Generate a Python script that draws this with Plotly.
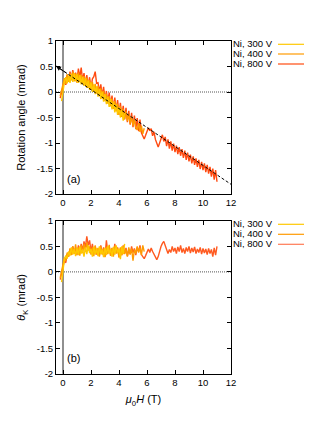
import plotly.graph_objects as go

# ---------------- data ----------------
x800 = [-0.2, -0.1, 0.0, 0.1, 0.2, 0.3, 0.4, 0.5, 0.6, 0.7, 0.8, 0.9, 1.0, 1.1, 1.2, 1.3, 1.4, 1.5, 1.6, 1.7,
        1.8, 1.9, 2.0, 2.1, 2.2, 2.3, 2.4, 2.5, 2.6, 2.7, 2.8, 2.9, 3.0, 3.1, 3.2, 3.3, 3.4, 3.5, 3.6, 3.7,
        3.8, 3.9, 4.0, 4.1, 4.2, 4.3, 4.4, 4.5, 4.6, 4.7, 4.8, 4.9, 5.0, 5.1, 5.2, 5.3, 5.4, 5.5, 5.6, 5.7,
        5.8, 5.9, 6.0, 6.1, 6.2, 6.3, 6.4, 6.5, 6.6, 6.7, 6.8, 6.9, 7.0, 7.1, 7.2, 7.3, 7.4, 7.5, 7.6, 7.7,
        7.8, 7.9, 8.0, 8.1, 8.2, 8.3, 8.4, 8.5, 8.6, 8.7, 8.8, 8.9, 9.0, 9.1, 9.2, 9.3, 9.4, 9.5, 9.6, 9.7,
        9.8, 9.9, 10.0, 10.1, 10.2, 10.3, 10.4, 10.5, 10.6, 10.7, 10.8, 10.9, 11.0]
x400 = [-0.2, -0.1, 0.0, 0.1, 0.2, 0.3, 0.4, 0.5, 0.6, 0.7, 0.8, 0.9, 1.0, 1.1, 1.2, 1.3, 1.4, 1.5, 1.6, 1.7,
        1.8, 1.9, 2.0, 2.1, 2.2, 2.3, 2.4, 2.5, 2.6, 2.7, 2.8, 2.9, 3.0, 3.1, 3.2, 3.3, 3.4, 3.5, 3.6, 3.7,
        3.8, 3.9, 4.0, 4.1, 4.2, 4.3, 4.4, 4.5, 4.6, 4.7, 4.8, 4.9, 5.0, 5.1, 5.2, 5.3, 5.4, 5.5, 5.6, 5.7, 5.8]
x300 = [-0.1, 0.0, 0.1, 0.2, 0.3, 0.4, 0.5, 0.6, 0.7, 0.8, 0.9, 1.0, 1.1, 1.2, 1.3, 1.4, 1.5, 1.6, 1.7,
        1.8, 1.9, 2.0, 2.1, 2.2, 2.3, 2.4, 2.5, 2.6, 2.7, 2.8, 2.9, 3.0, 3.1, 3.2, 3.3, 3.4, 3.5, 3.6, 3.7,
        3.8, 3.9, 4.0, 4.1, 4.2, 4.3, 4.4]

# (a) rotation angle
rot800 = [-0.12, -0.02, 0.12, 0.22, 0.14, 0.33, 0.22, 0.40, 0.25, 0.43, 0.26, 0.38, 0.22, 0.46, 0.28, 0.48,
          0.22, 0.37, 0.16, 0.33, 0.12, 0.29, 0.06, 0.26, 0.30, 0.40, 0.17, 0.18, 0.01, 0.15, -0.08, 0.10,
          -0.16, 0.02, -0.21, -0.01, -0.27, -0.07, -0.33, -0.11, -0.37, -0.16, -0.45, -0.21, -0.49, -0.27,
          -0.54, -0.31, -0.59, -0.37, -0.64, -0.41, -0.69, -0.46, -0.73, -0.51, -0.77, -0.54, -0.80, -0.88,
          -0.92, -0.85, -0.78, -0.70, -0.76, -0.72, -0.86, -0.78, -0.93, -1.02, -1.08, -1.00, -0.92, -0.84,
          -0.97, -0.88, -1.06, -0.93, -1.11, -0.97, -1.15, -1.01, -1.18, -1.05, -1.22, -1.08, -1.25, -1.12,
          -1.29, -1.15, -1.33, -1.19, -1.36, -1.23, -1.40, -1.26, -1.43, -1.30, -1.47, -1.33, -1.51, -1.37,
          -1.53, -1.40, -1.57, -1.43, -1.60, -1.47, -1.66, -1.50, -1.72, -1.53, -1.76]
rot400 = [-0.08, 0.05, 0.15, 0.27, 0.16, 0.35, 0.20, 0.37, 0.23, 0.40, 0.21, 0.36, 0.18, 0.38, 0.20, 0.34,
          0.16, 0.31, 0.12, 0.28, 0.08, 0.24, 0.04, 0.20, 0.01, 0.16, -0.03, 0.12, -0.08, 0.07, -0.13, 0.02,
          -0.18, -0.03, -0.23, -0.08, -0.28, -0.13, -0.33, -0.18, -0.38, -0.23, -0.43, -0.28, -0.48, -0.33,
          -0.53, -0.38, -0.57, -0.43, -0.62, -0.48, -0.66, -0.53, -0.70, -0.74, -0.61, -0.78, -0.66, -0.82, -0.71]
rot300 = [-0.18, 0.02, 0.20, 0.29, 0.17, 0.32, 0.18, 0.35, 0.20, 0.37, 0.21, 0.35, 0.18, 0.33, 0.15, 0.30,
          0.12, 0.27, 0.08, 0.23, 0.04, 0.19, 0.00, 0.15, -0.04, 0.11, -0.09, 0.06, -0.14, 0.01, -0.19, -0.04,
          -0.24, -0.09, -0.29, -0.14, -0.34, -0.19, -0.40, -0.24, -0.45, -0.29, -0.50, -0.35, -0.56, -0.40]

# (b) Kerr angle
kerr800 = [-0.15, -0.05, 0.10, 0.22, 0.18, 0.35, 0.30, 0.45, 0.34, 0.50, 0.36, 0.47, 0.33, 0.52, 0.38, 0.55,
           0.42, 0.60, 0.48, 0.70, 0.52, 0.62, 0.40, 0.55, 0.36, 0.50, 0.34, 0.45, 0.32, 0.52, 0.36, 0.48,
           0.30, 0.62, 0.38, 0.50, 0.32, 0.46, 0.34, 0.55, 0.37, 0.48, 0.30, 0.45, 0.33, 0.52, 0.36, 0.47,
           0.31, 0.44, 0.35, 0.50, 0.38, 0.46, 0.33, 0.48, 0.40, 0.52, 0.34, 0.30, 0.26, 0.32, 0.40, 0.45,
           0.38, 0.47, 0.40, 0.35, 0.28, 0.24, 0.30, 0.42, 0.50, 0.56, 0.60, 0.52, 0.45, 0.36, 0.44, 0.38,
           0.50, 0.40, 0.47, 0.36, 0.49, 0.40, 0.52, 0.38, 0.46, 0.36, 0.48, 0.40, 0.50, 0.37, 0.47, 0.39,
           0.49, 0.36, 0.45, 0.38, 0.48, 0.35, 0.46, 0.37, 0.45, 0.34, 0.46, 0.36, 0.44, 0.30, 0.47, 0.33, 0.50]
kerr400 = [-0.12, 0.00, 0.15, 0.28, 0.22, 0.38, 0.30, 0.46, 0.33, 0.50, 0.36, 0.54, 0.35, 0.48, 0.32, 0.52,
           0.37, 0.55, 0.40, 0.58, 0.42, 0.50, 0.34, 0.48, 0.31, 0.52, 0.36, 0.47, 0.30, 0.50, 0.34, 0.46,
           0.29, 0.49, 0.35, 0.53, 0.32, 0.47, 0.30, 0.51, 0.36, 0.45, 0.28, 0.48, 0.33, 0.50, 0.35, 0.44,
           0.30, 0.48, 0.34, 0.46, 0.22, 0.44, 0.36, 0.50, 0.38, 0.48, 0.33, 0.52, 0.40]
kerr300 = [-0.20, 0.05, 0.25, 0.32, 0.26, 0.40, 0.32, 0.48, 0.34, 0.45, 0.31, 0.47, 0.33, 0.50, 0.36, 0.44,
           0.30, 0.48, 0.35, 0.52, 0.37, 0.45, 0.30, 0.49, 0.34, 0.46, 0.31, 0.50, 0.35, 0.44, 0.29, 0.47,
           0.33, 0.51, 0.36, 0.45, 0.30, 0.49, 0.34, 0.52, 0.37, 0.46, 0.25, 0.50, 0.35, 0.55]

# linear background fit in (a)
fit_x = [-0.5, 12.0]
fit_y = [0.51, -1.81]

series_names = ["Ni, 300 V", "Ni, 400 V", "Ni, 800 V"]
x_ticks = [0, 2, 4, 6, 8, 10, 12]
y_ticks = [1, 0.5, 0, -0.5, -1, -1.5, -2]
y_tick_text = ["1", "0.5", "0", "-0.5", "-1", "-1.5", "-2"]

# ---------------- style ----------------
W, H = 309, 426
FONT = "Liberation Sans, Arial, sans-serif"
C300, C400, C800 = "#ffc800", "#ff9a00", "#ff4a10"
C800b = "#ff5a20"
LW = 1.4

def px(x):
    return x / W

def py(y):
    return 1 - y / H

fig = go.Figure()

# panel (a): drawn back-to-front so yellow is on top
for xs, ys, c in [(x800, rot800, C800), (x400, rot400, C400), (x300, rot300, C300)]:
    fig.add_trace(go.Scatter(x=xs, y=ys, mode="lines", line=dict(color=c, width=LW),
                             showlegend=False, xaxis="x", yaxis="y"))
fig.add_trace(go.Scatter(x=fit_x, y=fit_y, mode="lines", line=dict(color="black", width=1, dash="3px,2px"),
                         showlegend=False, xaxis="x", yaxis="y"))

# panel (b)
for xs, ys, c in [(x800, kerr800, C800b), (x400, kerr400, C400), (x300, kerr300, C300)]:
    fig.add_trace(go.Scatter(x=xs, y=ys, mode="lines", line=dict(color=c, width=LW),
                             showlegend=False, xaxis="x2", yaxis="y2"))

# reference lines
for xr, yr in [("x", "y"), ("x2", "y2")]:
    fig.add_shape(type="line", xref=xr, yref=yr + " domain", x0=0, x1=0, y0=0, y1=1,
                  line=dict(color="#909090", width=2), layer="below")
    fig.add_shape(type="line", xref=xr + " domain", yref=yr, x0=0, x1=1, y0=0, y1=0,
                  line=dict(color="#555555", width=1, dash="1px,1px"), layer="below")

axis_common = dict(showline=True, linecolor="black", linewidth=1, mirror="ticks",
                   ticks="inside", ticklen=4, tickcolor="black", showgrid=False, zeroline=False,
                   automargin=False,
                   tickfont=dict(family=FONT, size=9.5, color="black"))

dom_x = [px(56), px(231)]
fig.update_layout(
    width=W, height=H,
    margin=dict(l=0, r=0, t=0, b=0),
    paper_bgcolor="white", plot_bgcolor="white",
    font=dict(family=FONT, color="black"),
    showlegend=False,
    xaxis=dict(domain=dom_x, range=[-0.5, 12], tickvals=x_ticks, anchor="y", **axis_common),
    yaxis=dict(domain=[py(194), py(41)], range=[-2, 1], tickvals=y_ticks, ticktext=y_tick_text,
               anchor="x", title=dict(text="Rotation angle (mrad)", font=dict(family=FONT, size=11), standoff=8),
               **axis_common),
    xaxis2=dict(domain=dom_x, range=[-0.5, 12], tickvals=x_ticks, anchor="y2",
                title=dict(text="<i>μ</i><sub>0</sub><i>H</i> (T)", font=dict(family=FONT, size=11), standoff=8),
                **axis_common),
    yaxis2=dict(domain=[py(373.7), py(221)], range=[-2, 1], tickvals=y_ticks, ticktext=y_tick_text,
                anchor="x2", title=dict(text="<i>θ</i><sub>K</sub> (mrad)", font=dict(family=FONT, size=11), standoff=8),
                **axis_common),
)

# arrow head at the left end of the fit line
fig.add_annotation(x=fit_x[0], y=fit_y[0], ax=0.35, ay=0.352, xref="x", yref="y", axref="x", ayref="y",
                   showarrow=True, arrowhead=2, arrowsize=1, arrowwidth=1, arrowcolor="black", text="")

# panel labels
fig.add_annotation(x=0.05, y=0.1, xref="x domain", yref="y domain", text="(a)", showarrow=False,
                   xanchor="left", yanchor="middle", font=dict(family=FONT, size=11))
fig.add_annotation(x=0.05, y=0.1, xref="x2 domain", yref="y2 domain", text="(b)", showarrow=False,
                   xanchor="left", yanchor="middle", font=dict(family=FONT, size=11))

# gnuplot-style keys (text then line sample)
key_rows = [(44.3, 54.0, 64.0), (224.3, 234.3, 244.3)]
key_colors = [(C300, C400, C800), (C300, C400, "#ff7a55")]
for rows, cols in zip(key_rows, key_colors):
    for name, yy, c in zip(series_names, rows, cols):
        fig.add_annotation(x=px(274), y=py(yy), xref="paper", yref="paper", text=name, showarrow=False,
                           xanchor="right", yanchor="middle", height=9.5, borderpad=0, valign="middle",
                           font=dict(family=FONT, size=9.5))
        fig.add_shape(type="line", xref="paper", yref="paper", x0=px(278), x1=px(304), y0=py(yy), y1=py(yy),
                      line=dict(color=c, width=1.2))

fig.write_html("out.html", config={"displayModeBar": False},
               post_script="document.body.style.margin='0';document.body.style.overflow='hidden';")
